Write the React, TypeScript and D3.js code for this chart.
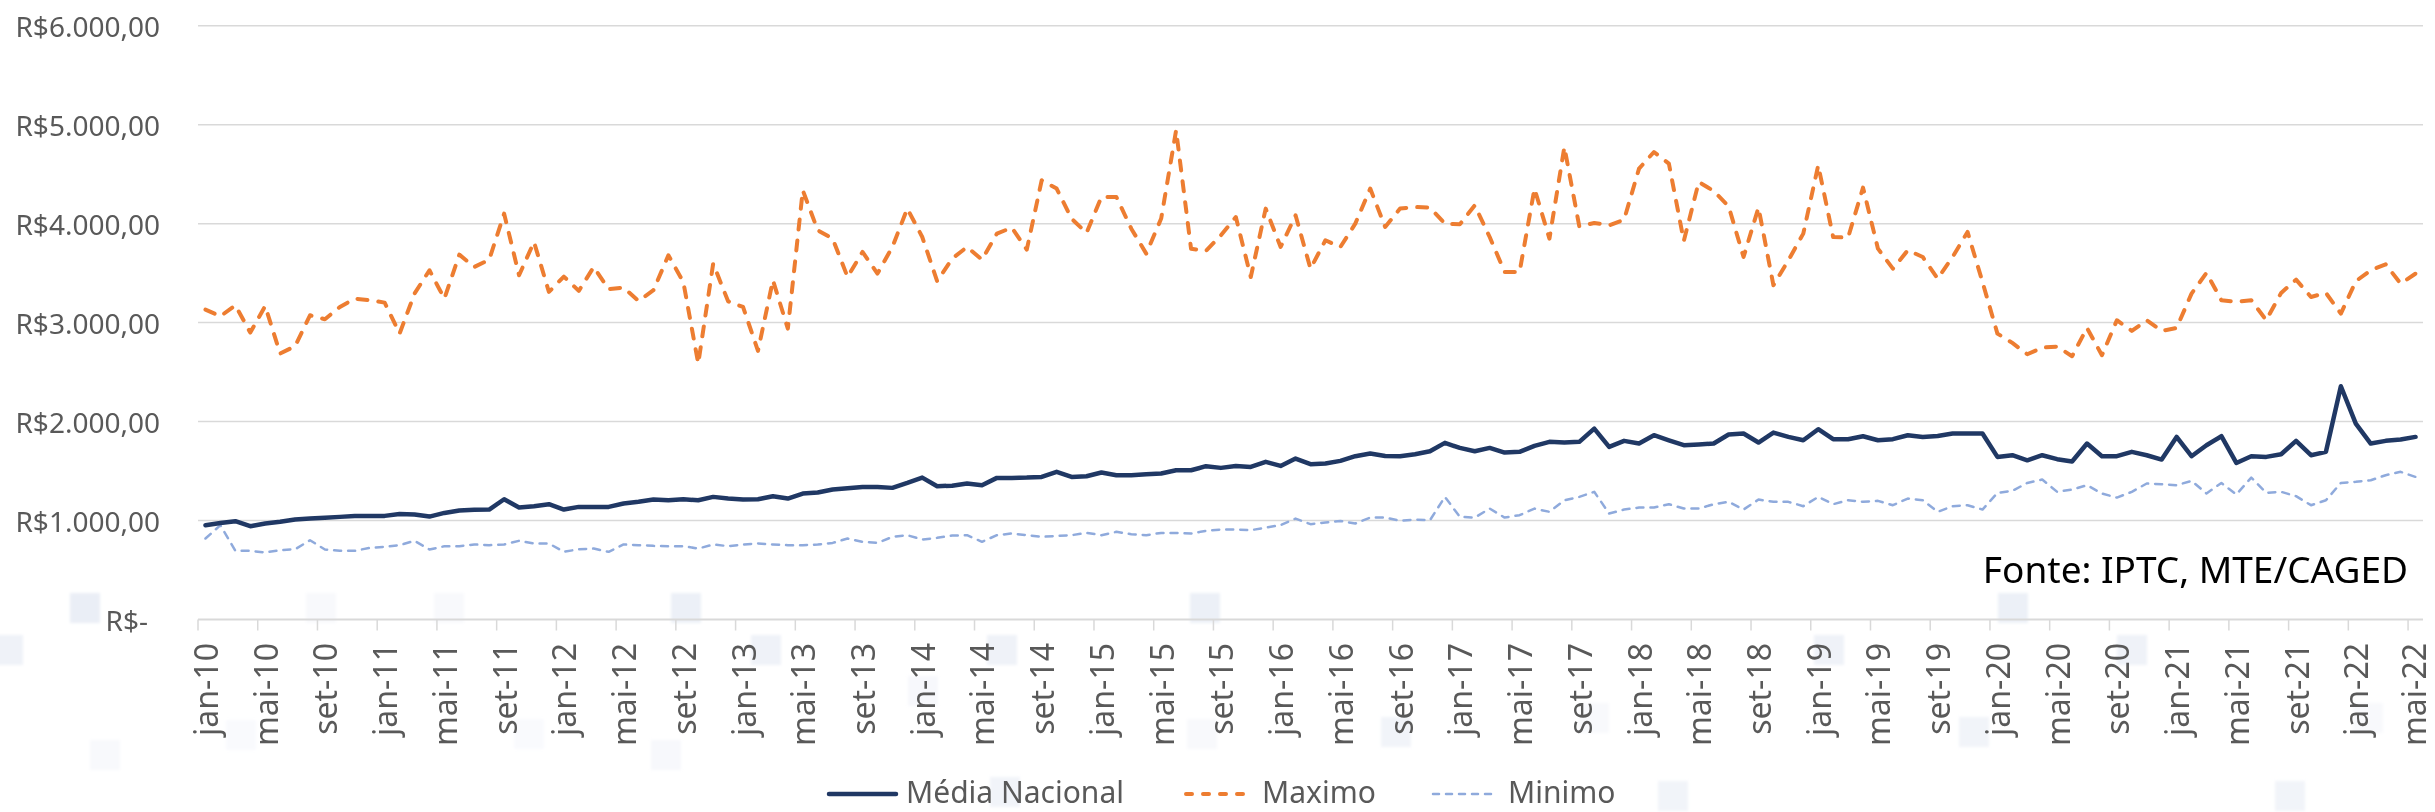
import * as d3 from "d3";

const MONTHS = ["jan", "fev", "mar", "abr", "mai", "jun", "jul", "ago", "set", "out", "nov", "dez"];
const FIRST_YEAR = 2010;
const N_MONTHS = 149; // jan-10 .. mai-22

const categories = d3.range(N_MONTHS).map(
  (i) => `${MONTHS[i % 12]}-${String((FIRST_YEAR + Math.floor(i / 12)) % 100).padStart(2, "0")}`
);

// R$ per month
const mediaNacional = [
  953, 976, 993, 943, 970, 987, 1010, 1020, 1027, 1037, 1047, 1047,
  1047, 1067, 1061, 1040, 1077, 1101, 1108, 1111, 1215, 1131, 1145, 1165,
  1111, 1138, 1138, 1138, 1172, 1189, 1212, 1205, 1215, 1205, 1239, 1222,
  1212, 1215, 1246, 1222, 1273, 1283, 1313, 1327, 1340, 1340, 1330, 1380,
  1434, 1347, 1352, 1374, 1357, 1431, 1431, 1434, 1441, 1492, 1441, 1448,
  1485, 1458, 1458, 1468, 1475, 1508, 1508, 1549, 1532, 1552, 1542, 1593,
  1552, 1626, 1569, 1576, 1603, 1650, 1677, 1653, 1650, 1670, 1700, 1785,
  1734, 1700, 1734, 1687, 1694, 1754, 1795, 1788, 1795, 1929, 1744, 1805,
  1778, 1862, 1811, 1761, 1768, 1778, 1869, 1879, 1788, 1889, 1845, 1811,
  1923, 1822, 1822, 1852, 1811, 1822, 1862, 1845, 1855, 1879, 1879, 1879,
  1643, 1660, 1609, 1660, 1620, 1596, 1778, 1650, 1650, 1694, 1660, 1616,
  1845, 1650, 1761, 1852, 1582, 1650, 1643, 1670, 1805, 1660, 1694, 2357,
  1980, 1778, 1805, 1818, 1845,
];

const maximo = [
  3131, 3064, 3175, 2899, 3168, 2687, 2761, 3074, 3034, 3158, 3242, 3226,
  3202, 2889, 3293, 3529, 3242, 3687, 3562, 3636, 4101, 3478, 3815, 3310,
  3465, 3320, 3562, 3337, 3354, 3219, 3327, 3680, 3411, 2586, 3596, 3215,
  3158, 2714, 3428, 2939, 4337, 3933, 3848, 3461, 3714, 3495, 3764, 4152,
  3865, 3418, 3646, 3764, 3636, 3899, 3960, 3737, 4438, 4354, 4050, 3906,
  4269, 4269, 3949, 3697, 4051, 4943, 3747, 3724, 3882, 4067, 3461, 4152,
  3764, 4084, 3545, 3832, 3764, 4000, 4354, 3966, 4152, 4168, 4162, 4000,
  3993, 4185, 3865, 3512, 3512, 4354, 3848, 4774, 3973, 4007, 3983, 4040,
  4556, 4724, 4606, 3825, 4421, 4330, 4175, 3663, 4162, 3377, 3630, 3899,
  4589, 3865, 3859, 4364, 3747, 3545, 3731, 3663, 3444, 3663, 3916, 3411,
  2889, 2795, 2680, 2747, 2758, 2660, 2946, 2670, 3024, 2916, 3024, 2916,
  2946, 3293, 3502, 3226, 3209, 3226, 3024, 3300, 3434, 3259, 3300, 3091,
  3418, 3529, 3589, 3394, 3495,
];

const minimo = [
  818, 953, 694, 694, 677, 700, 710, 801, 707, 694, 694, 724,
  734, 751, 795, 707, 741, 741, 758, 751, 758, 795, 768, 768,
  684, 710, 717, 684, 758, 751, 744, 741, 741, 717, 758, 741,
  758, 768, 758, 751, 751, 758, 774, 818, 785, 774, 835, 852,
  808, 825, 848, 852, 785, 852, 869, 852, 835, 845, 852, 875,
  852, 886, 862, 852, 875, 875, 869, 896, 909, 909, 902, 929,
  953, 1020, 963, 980, 995, 970, 1030, 1030, 997, 1010, 1003, 1239,
  1037, 1030, 1121, 1030, 1054, 1121, 1088, 1205, 1239, 1290, 1071, 1111,
  1131, 1131, 1165, 1121, 1121, 1165, 1189, 1111, 1212, 1189, 1189, 1145,
  1239, 1165, 1205, 1189, 1199, 1155, 1222, 1205, 1088, 1145, 1155, 1111,
  1279, 1300, 1380, 1414, 1290, 1313, 1357, 1273, 1232, 1290, 1374, 1367,
  1357, 1401, 1273, 1380, 1263, 1434, 1279, 1290, 1246, 1155, 1205, 1380,
  1391, 1407, 1458, 1492, 1441,
];

const yTicks = [0, 1000, 2000, 3000, 4000, 5000, 6000];
const seriesNames = ["Média Nacional", "Maximo", "Minimo"];
const fonte = "Fonte: IPTC, MTE/CAGED";

// faint background squares seen in the picture: [cx, cy, opacity]
const squares: [number, number, number][] = [
  [85, 608, 0.9], [8, 650, 0.7], [321, 608, 0.3], [449, 608, 0.3], [686, 608, 0.8],
  [766, 650, 0.7], [1002, 650, 0.7], [1205, 608, 0.8], [923, 691, 0.35], [241, 735, 0.25],
  [105, 755, 0.3], [529, 734, 0.25], [666, 755, 0.35], [1005, 792, 0.6], [1202, 734, 0.3],
  [2013, 608, 0.8], [1829, 650, 0.7], [2132, 650, 0.7], [1396, 732, 0.6], [1594, 718, 0.3],
  [1974, 732, 0.6], [2368, 718, 0.3], [1673, 796, 0.6], [2290, 796, 0.6],
];

const W = 2435;
const H = 812;
const plotLeft = 198;
const plotRight = 2423;
const plotTop = 25.7;
const plotBottom = 619.5;

const locale = d3.formatLocale({ decimal: ",", thousands: ".", grouping: [3], currency: ["R$", ""] });
const fmt = locale.format("$,.2f");

const COLORS = ["#203864", "#ED7D31", "#8FAADC"];
const GRID = "#D9D9D9";
const TEXT = "#595959";
const FONT = "'Noto Sans', sans-serif";

export default function App() {
  const x = d3.scaleBand<number>().domain(d3.range(N_MONTHS)).range([plotLeft, plotRight]).padding(0);
  const bw = x.bandwidth();
  const y = d3.scaleLinear().domain([0, 6000]).range([plotBottom, plotTop]);

  const line = d3
    .line<number>()
    .x((_d, i) => (x(i) as number) + bw / 2)
    .y((d) => y(d));

  const tickIdx = d3.range(0, N_MONTHS, 4);

  const legend = [
    { name: seriesNames[0], x0: 829, x1: 896, tx: 906, color: COLORS[0], w: 4.5, dash: undefined },
    { name: seriesNames[1], x0: 1186, x1: 1253, tx: 1262, color: COLORS[1], w: 4, dash: "6,11" },
    { name: seriesNames[2], x0: 1433, x1: 1494, tx: 1508, color: COLORS[2], w: 2.5, dash: "6,7" },
  ];

  return (
    <svg
      width={W}
      height={H}
      style={{ position: "absolute", left: 0, top: 0, background: "#fff" }}
      fontFamily={FONT}
    >
      <defs>
        <filter id="soft" x="-30%" y="-30%" width="160%" height="160%">
          <feGaussianBlur stdDeviation="1.5" />
        </filter>
      </defs>
      <g fill="#E2E7F3" filter="url(#soft)">
        {squares.map(([cx, cy, o], i) => (
          <rect key={i} x={cx - 15} y={cy - 15} width={30} height={30} opacity={o * 0.8} />
        ))}
      </g>

      {/* gridlines */}
      <g stroke={GRID} strokeWidth={1.5}>
        {yTicks.filter((t) => t > 0).map((t) => (
          <line key={t} x1={plotLeft} x2={plotRight} y1={y(t)} y2={y(t)} />
        ))}
      </g>

      {/* y labels */}
      <g fill={TEXT} fontSize={28} textAnchor="end">
        {yTicks.map((t) => (
          <text key={t} x={t === 0 ? 148 : 160} y={y(t)} dominantBaseline="central">
            {t === 0 ? "R$-" : fmt(t)}
          </text>
        ))}
      </g>

      {/* x axis */}
      <line x1={plotLeft} x2={plotRight} y1={plotBottom} y2={plotBottom} stroke={GRID} strokeWidth={2} />
      <g stroke={GRID} strokeWidth={1.5}>
        {tickIdx.map((i) => (
          <line key={i} x1={x(i)} x2={x(i)} y1={plotBottom} y2={plotBottom + 11} />
        ))}
      </g>
      <g fill={TEXT} fontSize={32} textAnchor="end">
        {tickIdx.map((i) => {
          const cx = Math.min((x(i) as number) + bw / 2, W - 22);
          return (
            <text key={i} transform={`translate(${cx},643) rotate(-90)`} dominantBaseline="central">
              {categories[i]}
            </text>
          );
        })}
      </g>

      {/* series */}
      <path d={line(minimo) ?? ""} fill="none" stroke={COLORS[2]} strokeWidth={2.5} strokeDasharray="7,7" strokeLinecap="round" strokeLinejoin="round" />
      <path d={line(maximo) ?? ""} fill="none" stroke={COLORS[1]} strokeWidth={4} strokeDasharray="10,11" strokeLinecap="round" strokeLinejoin="round" />
      <path d={line(mediaNacional) ?? ""} fill="none" stroke={COLORS[0]} strokeWidth={4.5} strokeLinecap="round" strokeLinejoin="round" />

      <text x={2408} y={583} textAnchor="end" fontSize={37} fill="#000">
        {fonte}
      </text>

      {/* legend */}
      <g>
        {legend.map((l) => (
          <g key={l.name}>
            <line x1={l.x0} x2={l.x1} y1={794} y2={794} stroke={l.color} strokeWidth={l.w} strokeDasharray={l.dash} strokeLinecap="round" />
            <text x={l.tx} y={803} fontSize={30} fill={TEXT}>
              {l.name}
            </text>
          </g>
        ))}
      </g>
    </svg>
  );
}
